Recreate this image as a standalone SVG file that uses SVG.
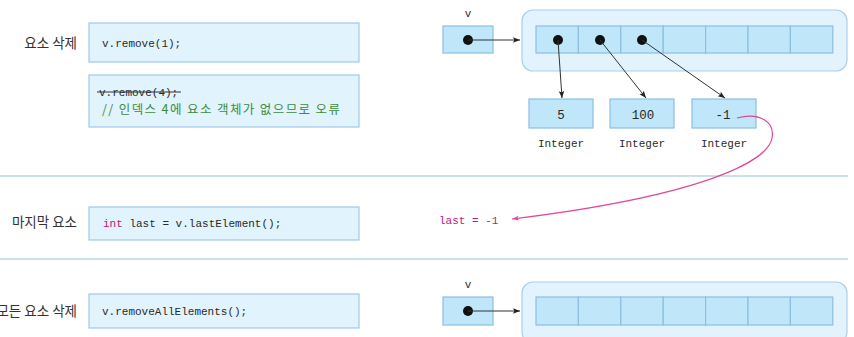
<svg xmlns="http://www.w3.org/2000/svg" width="854" height="337" viewBox="0 0 854 337">
  <defs>
    <marker id="arr" viewBox="0 0 10 10" refX="10" refY="5" markerWidth="9" markerHeight="7" markerUnits="userSpaceOnUse" orient="auto">
      <path d="M0,1 L10,5 L0,9 L2,5 Z" fill="#222"/>
    </marker>
    <marker id="arrPink" viewBox="0 0 10 10" refX="10" refY="5" markerWidth="13" markerHeight="7" markerUnits="userSpaceOnUse" orient="auto">
      <path d="M0,1.5 L10,5 L0,8.5 L2.5,5 Z" fill="#e0489a"/>
    </marker>
  </defs>
  <style>
    .code-box { fill: #e1f3fd; stroke: #9fc9e8; stroke-width: 1.2; }
    .cell { fill: #bfe6f9; stroke: #8dbfe2; stroke-width: 1.2; }
    .outer { fill: #e3f3fd; stroke: #a9d0ea; stroke-width: 1.2; }
    .sep { stroke: #b9d5ec; stroke-width: 1.5; }
    .label { font-family: "Noto Sans CJK KR", "Noto Sans", sans-serif; font-size: 13.5px; fill: #333; text-anchor: end; }
    .code { font-family: "Liberation Mono", "DejaVu Sans Mono", monospace; font-size: 11px; fill: #2a2a2a; }
    .cmt { font-family: "Noto Sans CJK KR", "Noto Sans", sans-serif; font-size: 12.5px; fill: #3c8c3c; }
    .mono { font-family: "Liberation Mono", "DejaVu Sans Mono", monospace; font-size: 11px; fill: #2a2a2a; text-anchor: middle; }
    .num { font-family: "Liberation Mono", "DejaVu Sans Mono", monospace; font-size: 12.5px; fill: #2a2a2a; text-anchor: middle; }
    .pink { fill: #c2177a; }
    .dot { fill: #111; }
    .link { stroke: #333; stroke-width: 1; fill: none; marker-end: url(#arr); }
  </style>

  <!-- section separators -->
  <line class="sep" x1="0" y1="176" x2="848" y2="176"/>
  <line class="sep" x1="0" y1="259" x2="848" y2="259"/>

  <!-- remove(index) -->
  <g id="remove-label"><text class="label" x="77" y="48">요소 삭제</text></g>
  <g id="remove-code">
    <rect class="code-box" x="89" y="23" width="270" height="39"/>
    <text class="code" x="102" y="47">v.remove(1);</text>
  </g>
  <g id="remove-error-code">
    <rect class="code-box" x="89" y="75" width="270" height="52"/>
    <text class="code" x="99" y="96">v.remove(4);</text>
    <line x1="97" y1="92" x2="181" y2="92" stroke="#333" stroke-width="1"/>
    <text class="cmt" x="102" y="114" textLength="238" lengthAdjust="spacing">// 인덱스 4에 요소 객체가 없으므로 오류</text>
  </g>

  <!-- vector after removal -->
  <g id="v-ref-top">
    <text class="mono" x="468" y="17">v</text>
    <rect class="cell" x="443" y="26" width="50" height="27"/>
    <circle class="dot" cx="468" cy="40" r="5"/>
  </g>
  <g id="vector-top">
    <rect class="outer" x="522" y="10" width="325" height="61" rx="11"/>
    <rect class="cell" x="536" y="26" width="42.4" height="27"/>
    <rect class="cell" x="578.4" y="26" width="42.4" height="27"/>
    <rect class="cell" x="620.8" y="26" width="42.4" height="27"/>
    <rect class="cell" x="663.2" y="26" width="42.4" height="27"/>
    <rect class="cell" x="705.6" y="26" width="42.4" height="27"/>
    <rect class="cell" x="748" y="26" width="42.4" height="27"/>
    <rect class="cell" x="790.4" y="26" width="42.4" height="27"/>
    <circle class="dot" cx="558" cy="40" r="5"/>
    <circle class="dot" cx="600" cy="40" r="5"/>
    <circle class="dot" cx="642" cy="40" r="5"/>
  </g>
  <g id="int-5">
    <rect class="cell" x="529" y="99" width="64" height="29"/>
    <text class="num" x="561" y="119">5</text>
    <text class="mono" x="561" y="147">Integer</text>
  </g>
  <g id="int-100">
    <rect class="cell" x="610" y="99" width="64" height="29"/>
    <text class="num" x="643" y="119">100</text>
    <text class="mono" x="642" y="147">Integer</text>
  </g>
  <g id="int-neg1">
    <rect class="cell" x="692" y="99" width="64" height="29"/>
    <text class="num" x="723" y="119">-1</text>
    <text class="mono" x="724" y="147">Integer</text>
  </g>

  <!-- lastElement() -->
  <g id="last-label"><text class="label" x="77" y="227">마지막 요소</text></g>
  <g id="last-code">
    <rect class="code-box" x="89" y="207" width="270" height="33"/>
    <text class="code" x="103" y="227"><tspan class="pink">int</tspan> last = v.lastElement();</text>
  </g>
  <g id="last-result"><text class="code pink" x="439" y="224">last = -1</text></g>

  <!-- removeAllElements() -->
  <g id="clear-label"><text class="label" x="77" y="316">모든 요소 삭제</text></g>
  <g id="clear-code">
    <rect class="code-box" x="89" y="294" width="270" height="34"/>
    <text class="code" x="102" y="315">v.removeAllElements();</text>
  </g>
  <g id="v-ref-bottom">
    <text class="mono" x="468" y="288">v</text>
    <rect class="cell" x="443" y="297" width="50" height="28"/>
    <circle class="dot" cx="468" cy="311" r="5"/>
  </g>
  <g id="vector-bottom">
    <rect class="outer" x="522" y="282" width="325" height="61" rx="11"/>
    <rect class="cell" x="536" y="297" width="42.4" height="28"/>
    <rect class="cell" x="578.4" y="297" width="42.4" height="28"/>
    <rect class="cell" x="620.8" y="297" width="42.4" height="28"/>
    <rect class="cell" x="663.2" y="297" width="42.4" height="28"/>
    <rect class="cell" x="705.6" y="297" width="42.4" height="28"/>
    <rect class="cell" x="748" y="297" width="42.4" height="28"/>
    <rect class="cell" x="790.4" y="297" width="42.4" height="28"/>
  </g>

  <!-- connectors -->
  <g id="connectors">
    <line class="link" x1="468" y1="40" x2="520" y2="40"/>
    <line class="link" x1="558" y1="40" x2="562" y2="98"/>
    <line class="link" x1="600" y1="40" x2="646" y2="98"/>
    <line class="link" x1="642" y1="40" x2="725" y2="98"/>
    <line class="link" x1="468" y1="311" x2="520" y2="311"/>
    <path d="M737,118 C760,112 775,122 772,138 C768,162 700,196 512,219" fill="none" stroke="#e0489a" stroke-width="1.2" marker-end="url(#arrPink)"/>
  </g>
</svg>
